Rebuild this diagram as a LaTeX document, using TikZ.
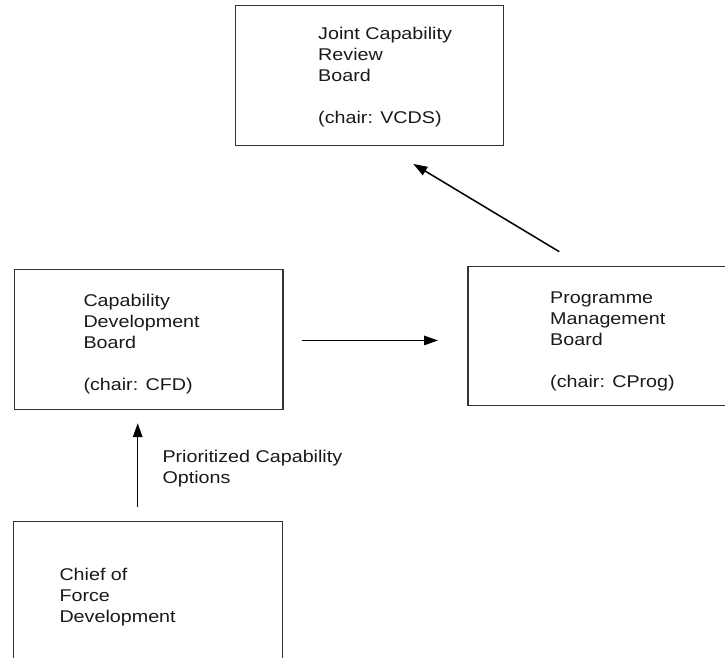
\documentclass[tikz,border=0pt]{standalone}
\usepackage{fontspec}
\setmainfont{Liberation Sans}[FakeStretch=1.16]
\usetikzlibrary{arrows.meta,calc}

\tikzset{
  board/.style={draw=black!80, line width=1.2pt, rectangle, inner sep=0pt,
    anchor=north west},
  % multi-line text: the base anchor sits on the last line's baseline
  boardtext/.style={inner sep=0pt, anchor=base west, align=left,
    text=black!90, font=\fontsize{17}{21}\selectfont},
  flow/.style={draw=black, line width=1.5pt,
    -{Triangle[length=14pt,width=9.5pt]}},
}

\begin{document}
\begin{tikzpicture}[x=1pt, y=-1pt]
  \useasboundingbox (0,0) rectangle (725,657);
  \clip (0,0) rectangle (725,657);

  % boards
  \node[board, minimum width=268pt, minimum height=139.7pt] (jcrb) at (234.7,5) {};
  \node[board, minimum width=268.6pt, minimum height=139.7pt] (cdb) at (13.7,269) {};
  \node[board, minimum width=300pt, minimum height=139pt] (pmb) at (467.3,265.7) {};
  \node[board, minimum width=268.7pt, minimum height=180pt] (cfd) at (13,520.7) {};

  % board titles
  \node[boardtext] (jcrbtext) at (318,123.9)
    {Joint Capability\\Review\\Board\\[21pt](chair: VCDS)};
  \node[boardtext] (cdbtext) at (83.3,390.2)
    {Capability\\Development\\Board\\[21pt](chair: CFD)};
  \node[boardtext] (pmbtext) at (550,387.2)
    {Programme\\Management\\Board\\[21pt](chair: CProg)};
  \node[boardtext] (cfdtext) at (59.3,622.2)
    {Chief of\\Force\\Development};

  % connectors
  \draw[flow, shorten <=13.7pt, shorten >=13.3pt]
    ([xshift=124.7pt]cfd.north west) -- ([xshift=124pt]cdb.south west);
  \draw[flow, shorten <=18.4pt, shorten >=29.3pt]
    ([yshift=-1pt]cdb.east) -- ([yshift=-1pt]cdb.east -| pmb.west);
  \draw[flow]
    ([xshift=92pt,yshift=14pt]pmb.north west) -- ([xshift=178.6pt,yshift=-18pt]jcrb.south west);

  % connector label
  \node[boardtext] (optlabel) at (162.3,483.9)
    {Prioritized Capability\\Options};
\end{tikzpicture}
\end{document}
